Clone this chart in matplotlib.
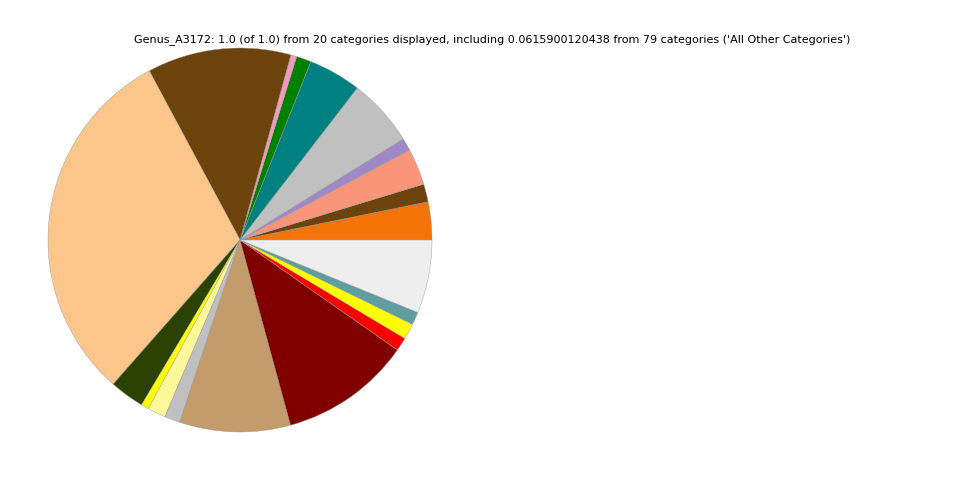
import matplotlib
matplotlib.use("Agg")
import matplotlib.pyplot as plt

categories = ["c1", "c2", "c3", "c4", "c5", "c6", "c7", "c8", "c9", "c10",
              "c11", "c12", "c13", "c14", "c15", "c16", "c17", "c18", "c19",
              "All Other Categories"]
values = [0.0319, 0.0151, 0.0307, 0.0106, 0.0572, 0.0444, 0.0125, 0.0050,
          0.1211, 0.3069, 0.0292, 0.0064, 0.0153, 0.0131, 0.0933, 0.1106,
          0.0114, 0.0133, 0.0108, 0.0615900120438]
colors = ["#f57307", "#6b430b", "#f9967a", "#a088c6", "#c0c0c0", "#008080",
          "#008000", "#f49ac0", "#6b430b", "#fcc68b", "#2b4200", "#ffff00",
          "#fff89a", "#c0c0c0", "#c49c6b", "#800000", "#ff0000", "#ffff00",
          "#5f9ea0", "#eeeeee"]
title = ("Genus_A3172: 1.0 (of 1.0) from 20 categories displayed, including "
         "0.0615900120438 from 79 categories ('All Other Categories')")

fig = plt.figure(figsize=(9.6, 4.8), dpi=100)
ax = fig.add_axes([0, 0, 0.5, 1])
ax.pie(values, colors=colors, startangle=0, counterclock=True,
       wedgeprops=dict(edgecolor="#999999", linewidth=0.3))
ax.set_aspect("equal")
fig.text(0.5125, 0.918, title, ha="center", va="center", fontsize=8)
fig.savefig("out.png", dpi=100)
